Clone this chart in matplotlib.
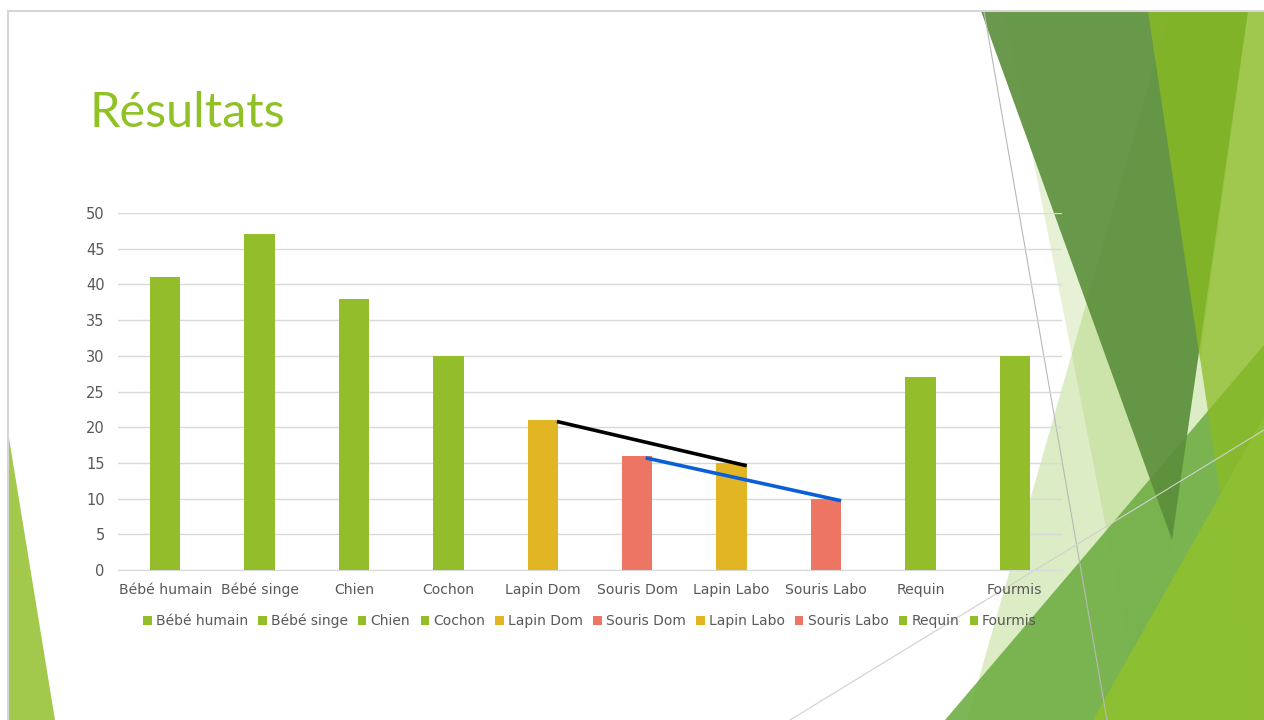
import matplotlib
matplotlib.use("Agg")
import matplotlib.pyplot as plt
from matplotlib.patches import Polygon
from matplotlib.lines import Line2D

# Donnees du graphique
categories = ["Bébé humain", "Bébé singe", "Chien", "Cochon", "Lapin Dom",
              "Souris Dom", "Lapin Labo", "Souris Labo", "Requin", "Fourmis"]
valeurs = [41, 47, 38, 30, 21, 16, 15, 10, 27, 30]
couleurs = ["#93BD2B", "#93BD2B", "#93BD2B", "#93BD2B", "#E1B524",
            "#EC7563", "#E1B524", "#EC7563", "#93BD2B", "#93BD2B"]
graduations = [0, 5, 10, 15, 20, 25, 30, 35, 40, 45, 50]

# Lignes de tendance (entre les lapins, entre les souris)
ligne_lapins = ["Lapin Dom", "Lapin Labo"]
ligne_souris = ["Souris Dom", "Souris Labo"]

W, H = 1264, 720
fig = plt.figure(figsize=(W / 100, H / 100), dpi=100)
fig.patch.set_facecolor("white")


def px(x, y):
    # pixels -> fraction de la figure
    return (x / W, 1 - y / H)


def forme(points, couleur, alpha=1.0):
    poly = Polygon([px(x, y) for x, y in points], closed=True,
                   transform=fig.transFigure, facecolor=couleur,
                   edgecolor="none", alpha=alpha, zorder=-5)
    fig.add_artist(poly)


def trait(p1, p2, couleur="#C8C8C8", lw=0.8):
    ligne = Line2D([p1[0] / W, p2[0] / W], [1 - p1[1] / H, 1 - p2[1] / H],
                   transform=fig.transFigure, color=couleur, lw=lw, zorder=-4)
    fig.add_artist(ligne)


# Decoration de la diapositive (triangles du theme)
forme([(1004, 11), (1248, 11), (1172, 540), (1144, 720)], "#C5DE9A", 0.4)
forme([(967, 720), (1170, 11), (1248, 11), (1200, 360), (1254, 720)],
      "#9CC95A", 0.35)
forme([(945, 720), (1264, 345), (1264, 720)], "#6FAE45", 0.9)
forme([(981, 11), (1248, 11), (1172, 540)], "#5A8E3A", 0.9)
forme([(1148, 11), (1264, 11), (1264, 720), (1254, 720)], "#89BB23", 0.8)
forme([(1093, 720), (1264, 417), (1264, 720)], "#8FC031", 0.95)
forme([(8, 432), (8, 720), (55, 720)], "#A2C84C", 1.0)
trait((984, 11), (1107, 720), "#B8B8B8")
trait((790, 720), (1264, 430), "#D0D0D0")
trait((8, 11), (1264, 11), "#D6D6D6", 1.5)
trait((8, 11), (8, 720), "#D6D6D6", 1.5)

fig.text(90 / W, 1 - 127 / H, "Résultats", fontsize=35, color="#90C226",
         family="Lato", ha="left", va="baseline")

ax = fig.add_axes([118 / W, 1 - 570 / H, (1062 - 118) / W, (570 - 213) / H])
ax.patch.set_alpha(0)

x = list(range(len(categories)))
for i in x:
    ax.bar(i, valeurs[i], width=0.32, color=couleurs[i], label=categories[i],
           zorder=3)

# Lignes tracees entre les sommets des barres
i1, i2 = categories.index(ligne_lapins[0]), categories.index(ligne_lapins[1])
ax.plot([i1 + 0.15, i2 + 0.16], [valeurs[i1] - 0.2, valeurs[i2] - 0.4],
        color="black", lw=2.6, zorder=5, solid_capstyle="butt")
j1, j2 = categories.index(ligne_souris[0]), categories.index(ligne_souris[1])
ax.plot([j1 + 0.09, j2 + 0.16], [valeurs[j1] - 0.3, valeurs[j2] - 0.3],
        color="#0A5FD8", lw=2.6, zorder=5, solid_capstyle="butt")

ax.set_xlim(-0.5, len(categories) - 0.5)
ax.set_ylim(0, 50)
ax.set_yticks(graduations)
ax.set_xticks(x)
ax.set_xticklabels(categories, va="baseline")
ax.grid(axis="y", color="#D9D9D9", lw=1, zorder=0)
for s in ["top", "right", "left"]:
    ax.spines[s].set_visible(False)
ax.spines["bottom"].set_color("#D9D9D9")
ax.tick_params(axis="both", length=0, colors="#595959", labelsize=10.5)
ax.tick_params(axis="x", labelsize=10.1, pad=17)
ax.tick_params(axis="y", pad=9.5)

leg = ax.legend(loc="upper center", bbox_to_anchor=(0.5, -0.088), ncol=10,
                frameon=False, fontsize=10, handlelength=0.6,
                handleheight=0.6, handletextpad=0.3, columnspacing=0.75,
                labelcolor="#595959")

fig.savefig("out.png", dpi=100)
